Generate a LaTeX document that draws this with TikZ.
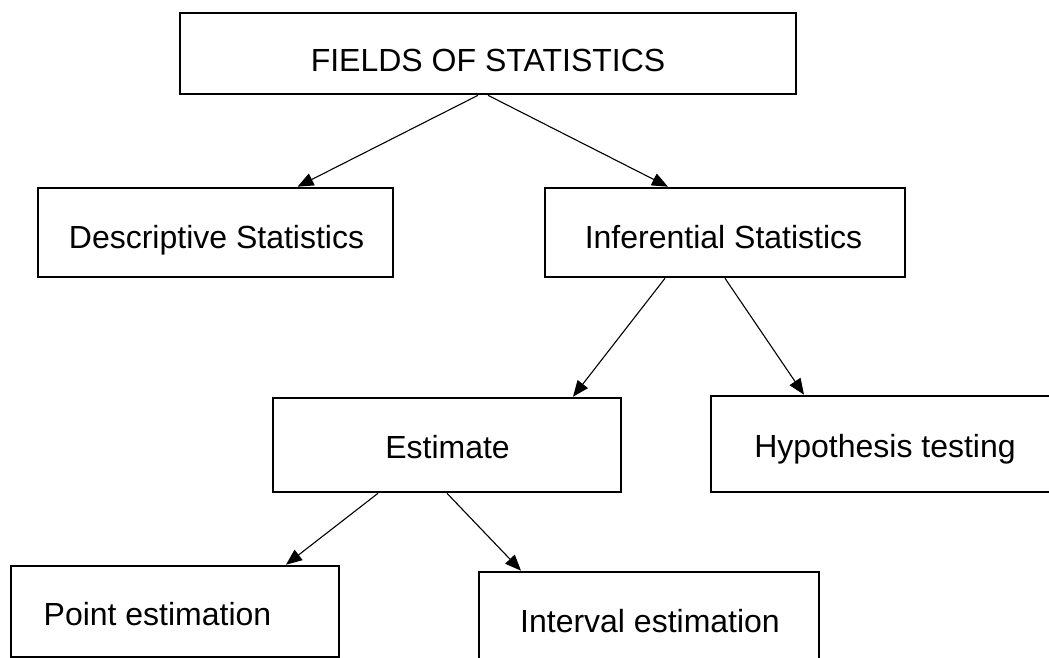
\documentclass[tikz,border=0pt]{standalone}
\usepackage{fontspec}
\setmainfont{Liberation Sans}
\usetikzlibrary{arrows.meta}
\begin{document}
\begin{tikzpicture}[x=1pt,y=-1pt,
  box/.style={draw=black,line width=2.6pt,fill=white,inner sep=0pt},
  txt/.style={anchor=base,inner sep=0pt,font=\fontsize{32}{38}\selectfont},
  arr/.style={-{Triangle[length=16pt,width=13pt]},line width=1.1pt}]
\useasboundingbox (0,0) rectangle (1049,658);
\clip (0,0) rectangle (1049,658);
% boxes
\node[box,minimum width=616pt,minimum height=81pt] (top) at (488,53.5) {};
\node[box,minimum width=355pt,minimum height=89pt] (desc) at (215.5,232.5) {};
\node[box,minimum width=360pt,minimum height=89pt] (inf) at (725,232.5) {};
\node[box,minimum width=348pt,minimum height=94pt] (est) at (447,445) {};
\node[box,minimum width=348pt,minimum height=96pt] (hyp) at (885,444) {};
\node[box,minimum width=328pt,minimum height=91pt] (pt) at (175,611.5) {};
\node[box,minimum width=340pt,minimum height=100pt] (iv) at (649,622) {};
% texts
\node[txt] (topt) at (488,72) {FIELDS OF STATISTICS};
\node[txt] (desct) at (216.5,248) {Descriptive Statistics};
\node[txt] (inft) at (723.5,248) {Inferential Statistics};
\node[txt] (estt) at (447.5,458) {Estimate};
\node[txt] (hypt) at (885,457) {Hypothesis testing};
\node[txt] (ptt) at (157.5,625) {Point estimation};
\node[txt] (ivt) at (650,632) {Interval estimation};
% arrows
\draw[arr] ([xshift=-10pt]top.south) -- ([xshift=82pt]desc.north);
\draw[arr] (top.south) -- ([xshift=-57pt]inf.north);
\draw[arr] ([xshift=-60pt]inf.south) -- ([xshift=126pt]est.north);
\draw[arr] (inf.south) -- ([xshift=-81pt]hyp.north);
\draw[arr] ([xshift=-69pt]est.south) -- ([xshift=111pt]pt.north);
\draw[arr] (est.south) -- ([xshift=-128pt]iv.north);
\end{tikzpicture}
\end{document}
